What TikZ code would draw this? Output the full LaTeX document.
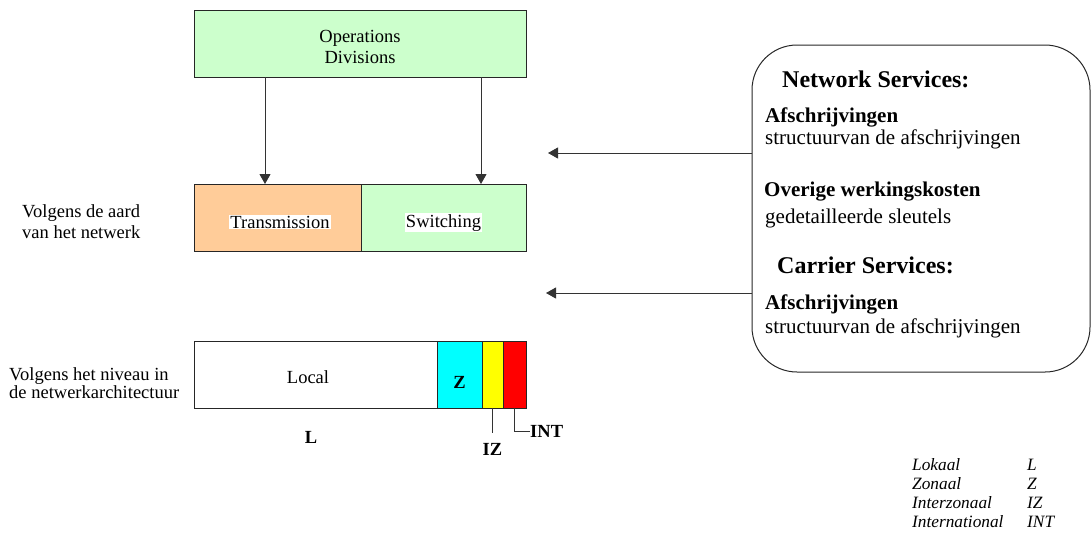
\documentclass[tikz,border=0pt]{standalone}
\usepackage{fontspec}
\setmainfont{Liberation Serif}
\usetikzlibrary{arrows.meta}
\definecolor{lgreen}{HTML}{CCFFCC}
\definecolor{lorange}{HTML}{FFCC99}
\definecolor{zcyan}{HTML}{00FFFF}
\definecolor{izyellow}{HTML}{FFFF00}
\definecolor{intred}{HTML}{FF0000}
\begin{document}
\begin{tikzpicture}[x=1pt,y=-1pt,
  box/.style={draw=black!85, line width=1pt, inner sep=0pt, outer sep=0pt},
  arr/.style={draw=black!80, line width=1pt, -{Triangle[length=10pt,width=11pt]}},
  line/.style={draw=black!80, line width=1pt},
  main/.style={inner sep=0pt, font=\fontsize{18.5}{21}\selectfont},
  mainb/.style={inner sep=0pt, font=\fontsize{18.5}{21}\selectfont\bfseries},
  svctext/.style={anchor=base west, inner sep=0pt, font=\fontsize{21}{24}\selectfont},
  svcbold/.style={anchor=base west, inner sep=0pt, font=\fontsize{21}{24}\selectfont\bfseries},
  svchead/.style={anchor=base west, inner sep=0pt, font=\fontsize{24}{27}\selectfont\bfseries},
  leg/.style={anchor=base west, inner sep=0pt, font=\fontsize{17.3}{19}\selectfont\itshape},
]
\useasboundingbox (0,0) rectangle (1091,542);

% Operations
\node[box, fill=lgreen, minimum width=332pt, minimum height=67pt] (ops) at (360,43.5) {};
\node[main, anchor=base] (opst1) at (360,42) {Operations};
\node[main, anchor=base] (opst2) at (360,63) {Divisions};

% Transmission / Switching
\node[box, fill=lorange, minimum width=167pt, minimum height=67pt] (trans) at (277.5,217.5) {};
\node[box, fill=lgreen, minimum width=165pt, minimum height=67pt] (sw) at (443.5,217.5) {};
\node[main, anchor=base, fill=white, inner sep=1pt] (transt) at (280,228) {Transmission};
\node[main, anchor=base, fill=white, inner sep=1pt] (swt) at (443.5,227) {Switching};

\coordinate (a1) at (265,0);
\coordinate (a2) at (481,0);
\draw[arr] (ops.south -| a1) -- (trans.north -| a1);
\draw[arr] (ops.south -| a2) -- (sw.north -| a2);

% Level bar
\node[box, minimum width=243pt, minimum height=67pt] (loc) at (315.5,374.5) {};
\node[box, fill=zcyan, minimum width=45pt, minimum height=67pt] (z) at (459.5,374.5) {};
\node[box, fill=izyellow, minimum width=21pt, minimum height=67pt] (iz) at (492.5,374.5) {};
\node[box, fill=intred, minimum width=23pt, minimum height=67pt] (int) at (514.5,374.5) {};
\node[main, anchor=base] (loct) at (308,383) {Local};
\node[mainb, anchor=base] (zt) at (459.5,388) {Z};

\node[mainb, anchor=base] (ll) at (311,443) {L};
\node[mainb, anchor=base] (izl) at (492.5,455) {IZ};
\node[mainb, anchor=west] (intl) at (530,431) {INT};
\draw[line] (iz.south) -- ++(0,25);
\draw[line] (int.south) |- (intl.west);

% Left labels
\node[main, anchor=base west] (lab1a) at (22,217) {Volgens de aard};
\node[main, anchor=base west] (lab1b) at (22,238) {van het netwerk};
\node[main, anchor=base west] (lab2a) at (9,380) {Volgens het niveau in};
\node[main, anchor=base west] (lab2b) at (9,398.5) {de netwerkarchitectuur};

% Services box
\node[box, rounded corners=45pt, minimum width=338pt, minimum height=327pt] (svc) at (921,208.5) {};
\node[svchead] (ns) at (782,87) {Network Services:};
\node[svcbold] (af1) at (765,122) {Afschrijvingen};
\node[svctext] (st1) at (765,144) {structuurvan de afschrijvingen};
\node[svcbold] (ow) at (764,196.5) {Overige werkingskosten};
\node[svctext] (gs) at (765,223) {gedetailleerde sleutels};
\node[svchead] (cs) at (777,273) {Carrier Services:};
\node[svcbold] (af2) at (765,309) {Afschrijvingen};
\node[svctext] (st2) at (765,333) {structuurvan de afschrijvingen};

\coordinate (t1) at (548,153);
\coordinate (t2) at (546,293);
\draw[arr] (svc.west |- t1) -- (t1);
\draw[arr] (svc.west |- t2) -- (t2);

% Legend
\node[leg] (lg1) at (912,470.5) {Lokaal};
\node[leg] (lg2) at (912,489.5) {Zonaal};
\node[leg] (lg3) at (912,508.5) {Interzonaal};
\node[leg] (lg4) at (912,527.5) {International};
\node[leg] (lc1) at (1027,470.5) {L};
\node[leg] (lc2) at (1027,489.5) {Z};
\node[leg] (lc3) at (1027,508.5) {IZ};
\node[leg] (lc4) at (1027,527.5) {INT};
\end{tikzpicture}
\end{document}
